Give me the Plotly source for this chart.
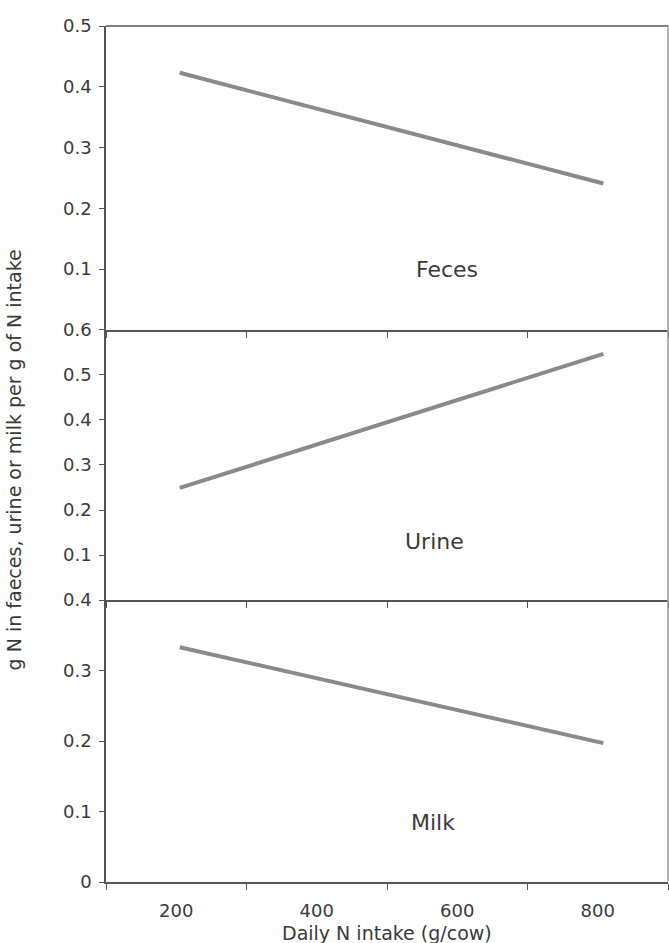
import plotly.graph_objects as go

intake = [205, 808]
feces = [0.423, 0.241]
urine = [0.249, 0.547]
milk = [0.333, 0.197]
panel_labels = ["Feces", "Urine", "Milk"]
label_x = [585, 567, 565]
label_y = [0.10, 0.131, 0.085]
x_tick_vals = [200, 400, 600, 800]
x_tick_text = ["200", "400", "600", "800"]

FONT = "DejaVu Sans"
TXT = "#3a3a3a"
AX = "#555555"
LINE = "#8a8a8a"

fig = go.Figure()
domains = [[0.6449, 1.0], [0.3294, 0.6449], [0.0, 0.3294]]
series = [feces, urine, milk]
yranges = [[0, 0.5], [0, 0.6], [0, 0.4]]
ytickvals = [[0.1, 0.2, 0.3, 0.4, 0.5],
             [0.1, 0.2, 0.3, 0.4, 0.5, 0.6],
             [0, 0.1, 0.2, 0.3, 0.4]]

for i in range(3):
    n = i + 1
    xa = "x" if n == 1 else f"x{n}"
    ya = "y" if n == 1 else f"y{n}"
    fig.add_trace(go.Scatter(x=intake, y=series[i], mode="lines",
                             line=dict(color=LINE, width=4),
                             xaxis=xa, yaxis=ya, showlegend=False,
                             hoverinfo="skip"))
    xkey = "xaxis" if n == 1 else f"xaxis{n}"
    ykey = "yaxis" if n == 1 else f"yaxis{n}"
    fig.update_layout(**{
        xkey: dict(domain=[0, 1], anchor=ya, range=[100, 900],
                   tickvals=x_tick_vals, ticktext=x_tick_text,
                   showticklabels=(n == 3), ticks="outside", ticklen=0,
                   ticklabelstandoff=12,
                   minor=dict(tick0=100, dtick=200, ticks="outside", ticklen=6,
                              tickcolor=AX, showgrid=False),
                   showline=True, linecolor=AX, linewidth=1.5, mirror=False,
                   showgrid=False, zeroline=False,
                   tickfont=dict(family=FONT, size=18, color=TXT),
                   matches=None if n == 1 else "x"),
        ykey: dict(domain=domains[i], anchor=xa, range=yranges[i],
                   tickvals=ytickvals[i], ticks="outside", ticklen=5,
                   ticklabelstandoff=4,
                   tickcolor=AX, showline=True, linecolor=AX, linewidth=1.5,
                   showgrid=False, zeroline=False,
                   tickfont=dict(family=FONT, size=18, color=TXT)),
    })
    fig.add_annotation(x=label_x[i], y=label_y[i], xref=xa, yref=ya,
                       text=panel_labels[i], showarrow=False,
                       font=dict(family=FONT, size=22, color=TXT),
                       xanchor="center", yanchor="middle")

# top and right frame lines
fig.add_shape(type="line", xref="paper", yref="paper", x0=0, x1=1, y0=1, y1=1,
              line=dict(color=AX, width=1.5))
fig.add_shape(type="line", xref="paper", yref="paper", x0=1, x1=1, y0=0, y1=1,
              line=dict(color="#999999", width=1.5))

fig.add_annotation(x=-0.163, y=0.493, xref="paper", yref="paper",
                   text="g N in faeces, urine or milk per g of N intake",
                   textangle=-90, showarrow=False,
                   font=dict(family=FONT, size=19, color=TXT),
                   xanchor="center", yanchor="middle")
fig.add_annotation(x=0.5, y=-0.0595, xref="paper", yref="paper",
                   text="Daily N intake (g/cow)", showarrow=False,
                   font=dict(family=FONT, size=19, color=TXT),
                   xanchor="center", yanchor="middle")

fig.update_layout(width=669, height=943,
                  margin=dict(l=106, r=1, t=26, b=61),
                  paper_bgcolor="white", plot_bgcolor="white")

post = ("document.body.style.margin='0';document.body.style.overflow='hidden';"
        "var gd=document.getElementById('{plot_id}');"
        "Plotly.relayout(gd,{width:669,height:943});")
fig.write_html("out.html", post_script=post,
               config={"displayModeBar": False, "responsive": False})
